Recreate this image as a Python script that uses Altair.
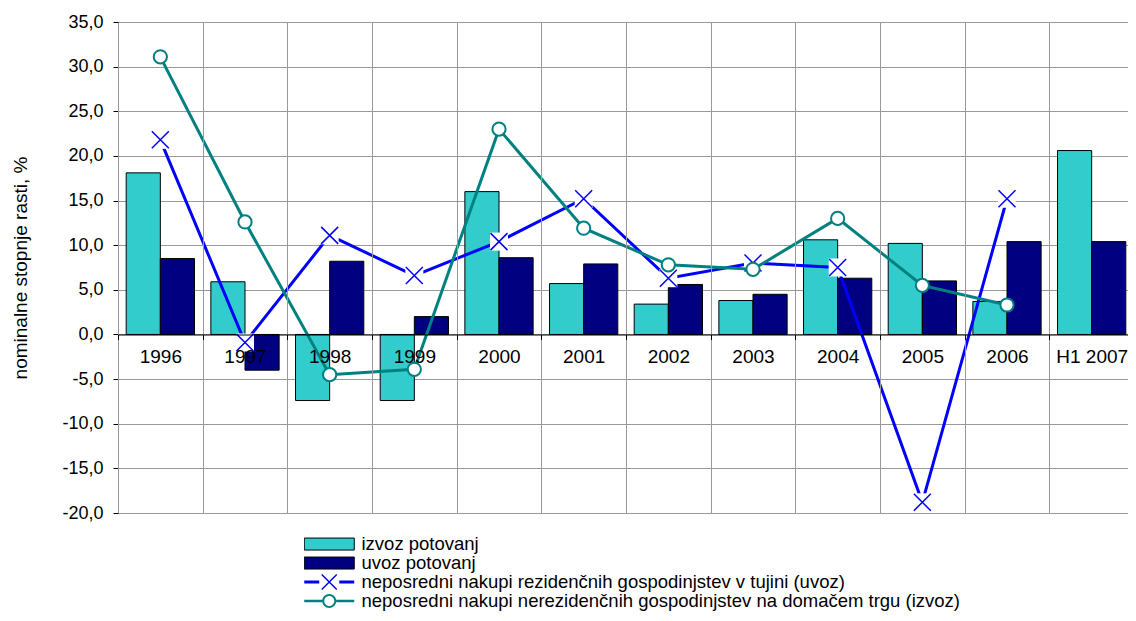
import altair as alt
import pandas as pd

categories = ["1996", "1997", "1998", "1999", "2000", "2001", "2002", "2003",
              "2004", "2005", "2006", "H1 2007"]
izvoz = [18.1, 5.9, -7.4, -7.4, 16.0, 5.7, 3.4, 3.8, 10.6, 10.2, 3.7, 20.6]
uvoz = [8.5, -4.0, 8.2, 2.0, 8.6, 7.9, 5.6, 4.5, 6.3, 6.0, 10.4, 10.4]
rez = [21.8, -0.9, 11.1, 6.6, 10.4, 15.2, 6.3, 8.0, 7.5, -18.8, 15.2]
nerez = [31.1, 12.6, -4.5, -3.9, 23.0, 11.9, 7.8, 7.3, 13.0, 5.5, 3.3]

S1 = "izvoz potovanj"
S2 = "uvoz potovanj"
S3 = "neposredni nakupi rezidenčnih gospodinjstev v tujini (uvoz)"
S4 = "neposredni nakupi nerezidenčnih gospodinjstev na domačem trgu (izvoz)"
series_names = [S1, S2, S3, S4]
series_colors = ["#33CCCC", "#000080", "#0000FF", "#008080"]

n_line = len(rez)
bars_df = pd.DataFrame({
    "year": categories * 2,
    "series": [S1] * len(categories) + [S2] * len(categories),
    "value": izvoz + uvoz,
})
rez_df = pd.DataFrame({"year": categories[:n_line], "value": rez})
nerez_df = pd.DataFrame({"year": categories[:n_line], "value": nerez})

FONT = "Liberation Sans"

x_enc = alt.X(
    "year:N", sort=categories,
    scale=alt.Scale(paddingInner=0, paddingOuter=0, range=[0, 1016]),
    axis=alt.Axis(
        title=None, orient="bottom", offset=-178.5, tickBand="extent",
        grid=True, gridColor="#999999", gridWidth=1,
        domainColor="#000000", tickColor="#000000", tickSize=5,
        labelFont=FONT, labelFontSize=19, labelColor="#000000",
        labelPadding=8, labelAngle=0, zindex=1,
    ),
)
y_enc = alt.Y(
    "value:Q",
    scale=alt.Scale(domain=[-20, 35], nice=False),
    axis=alt.Axis(
        values=list(range(-20, 40, 5)),
        labelExpr="(datum.value < 0 ? '-' : '') + replace(format(abs(datum.value), '.1f'), '.', ',')",
        title="nominalne stopnje rasti, %",
        titleFont=FONT, titleFontSize=19, titleFontWeight="normal",
        titleColor="#000000", titlePadding=31,
        labelFont=FONT, labelFontSize=18, labelColor="#000000", labelPadding=10,
        tickSize=5, tickColor="#000000", domainColor="#000000",
        gridColor="#999999", gridWidth=1,
    ),
)

is_bar = "(datum.value == 'izvoz potovanj' || datum.value == 'uvoz potovanj')"
is_x = "(indexof(datum.value, '(uvoz)') > 0)"
bar_path = "M-0.36,-0.24H1.64V0.24H-0.36Z"
x_path = ("M-0.36,-0.06H0.24V0.06H-0.36Z M1.04,-0.06H1.64V0.06H1.04Z "
          "M0.32,-0.28L0.36,-0.32L0.96,0.28L0.92,0.32Z "
          "M0.92,-0.32L0.96,-0.28L0.36,0.32L0.32,0.28Z")
o_path = ("M-0.36,-0.05H0.36V0.05H-0.36Z M0.92,-0.05H1.64V0.05H0.92Z "
          "M0.92,0A0.28,0.28 0 1,1 0.36,0A0.28,0.28 0 1,1 0.92,0Z "
          "M0.84,0A0.2,0.2 0 1,0 0.44,0A0.2,0.2 0 1,0 0.84,0Z")

legend = alt.Legend(
    title=None, orient="none", legendX=186, legendY=513, direction="vertical",
    labelFont=FONT, labelFontSize=18.5, labelColor="#000000", labelOffset=39,
    labelLimit=1000,
    symbolSize=2500, clipHeight=18.1, rowPadding=0, padding=0,
    symbolType={"expr": f"{is_bar} ? '{bar_path}' : ({is_x} ? '{x_path}' : '{o_path}')"},
    symbolStrokeWidth={"expr": f"{is_bar} ? 1 : 0"},
    symbolStrokeColor="#000000",
    symbolOpacity=1,
)
color_enc = alt.Color(
    "series:N",
    scale=alt.Scale(domain=series_names, range=series_colors),
    legend=legend,
)

bars = alt.Chart(bars_df).mark_bar(stroke="#000000", strokeWidth=1).encode(
    x=x_enc, y=y_enc, color=color_enc,
    xOffset=alt.XOffset("series:N", sort=[S1, S2],
                        scale=alt.Scale(paddingOuter=0.24, paddingInner=0)),
)

rez_line = alt.Chart(rez_df).mark_line(color="#0000FF", strokeWidth=3).encode(
    x=x_enc, y=y_enc)
rez_bg = alt.Chart(rez_df).mark_square(
    size=324, color="#FFFFFF", opacity=1, filled=True).encode(x=x_enc, y=y_enc)
rez_pts = alt.Chart(rez_df).mark_point(
    shape="M-1,-1L1,1M-1,1L1,-1", filled=False, color="#0000FF",
    strokeWidth=1.5, size=289, opacity=1).encode(x=x_enc, y=y_enc)
nerez_line = alt.Chart(nerez_df).mark_line(color="#008080", strokeWidth=3).encode(
    x=x_enc, y=y_enc)
nerez_pts = alt.Chart(nerez_df).mark_point(
    shape="circle", filled=True, fill="#FFFFFF", stroke="#008080",
    strokeWidth=2, size=175, opacity=1).encode(x=x_enc, y=y_enc)

chart = alt.layer(bars, rez_line, rez_bg, rez_pts, nerez_line, nerez_pts).properties(
    width=1010, height=491,
    autosize=alt.AutoSizeParams(type="none"),
    padding={"left": 110, "top": 14, "right": 0, "bottom": 100},
).configure_view(stroke="#000000", strokeWidth=1)

chart.save("out.html", embed_options={"renderer": "svg", "actions": False})
